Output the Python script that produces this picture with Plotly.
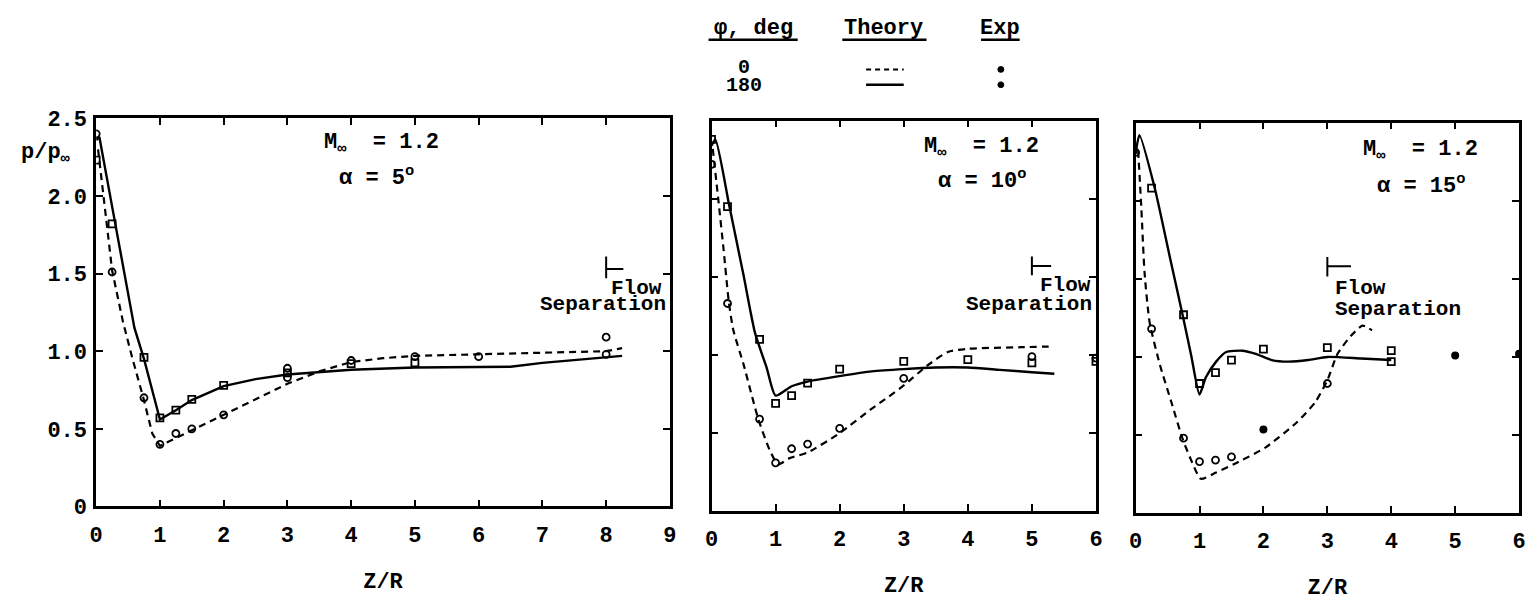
import plotly.graph_objects as go

W, H = 1534, 601
FONT = "Liberation Mono"
INK = "black"

# ---------------- data: M = 1.2, alpha = 5 deg ----------------
a5_theory0_x = [0.03, 0.25, 0.42, 0.57, 0.74, 0.88, 1.0, 1.25, 1.5, 2.0, 2.5, 3.0, 3.5, 4.0, 4.5, 5.0, 6.0, 7.0, 8.0, 8.25]
a5_theory0_y = [2.30, 1.52, 1.19, 0.95, 0.70, 0.47, 0.39, 0.44, 0.49, 0.59, 0.69, 0.79, 0.87, 0.93, 0.955, 0.97, 0.98, 0.99, 1.00, 1.02]
a5_theory180_x = [0.0, 0.05, 0.3, 0.6, 0.75, 1.0, 1.25, 1.5, 2.0, 2.5, 3.0, 3.5, 4.0, 5.0, 6.0, 6.5, 7.0, 8.0, 8.25]
a5_theory180_y = [2.36, 2.38, 1.82, 1.15, 0.95, 0.56, 0.62, 0.685, 0.775, 0.82, 0.85, 0.865, 0.88, 0.895, 0.90, 0.90, 0.925, 0.96, 0.97]
a5_exp0_x = [0.0, 0.25, 0.75, 1.0, 1.25, 1.5, 2.0, 3.0, 3.0, 4.0, 5.0, 6.0, 8.0, 8.0]
a5_exp0_y = [2.40, 1.51, 0.70, 0.40, 0.47, 0.50, 0.59, 0.89, 0.83, 0.94, 0.965, 0.965, 1.09, 0.98]
a5_exp180_x = [0.0, 0.25, 0.75, 1.0, 1.25, 1.5, 2.0, 3.0, 4.0, 5.0]
a5_exp180_y = [2.23, 1.82, 0.96, 0.57, 0.62, 0.69, 0.78, 0.86, 0.92, 0.925]

# ---------------- data: M = 1.2, alpha = 10 deg ----------------
a10_theory0_x = [0.02, 0.11, 0.19, 0.27, 0.34, 0.5, 0.73, 0.91, 1.04, 1.22, 1.5, 2.0, 2.48, 2.77, 3.0, 3.36, 3.69, 4.0, 4.83, 5.34]
a10_theory0_y = [2.32, 1.98, 1.67, 1.34, 1.16, 0.94, 0.59, 0.39, 0.30, 0.34, 0.376, 0.50, 0.65, 0.735, 0.805, 0.93, 1.02, 1.04, 1.05, 1.055]
a10_theory180_x = [0.0, 0.06, 0.28, 0.5, 0.68, 0.86, 1.0, 1.25, 1.5, 2.0, 2.5, 3.0, 3.5, 4.0, 4.5, 5.0, 5.35]
a10_theory180_y = [2.34, 2.38, 1.95, 1.51, 1.14, 0.92, 0.74, 0.80, 0.83, 0.865, 0.895, 0.91, 0.92, 0.92, 0.905, 0.89, 0.88]
a10_exp0_x = [0.0, 0.25, 0.75, 1.0, 1.25, 1.5, 2.0, 3.0, 5.0, 6.0]
a10_exp0_y = [2.22, 1.33, 0.59, 0.31, 0.40, 0.43, 0.53, 0.85, 0.99, 0.98]
a10_exp180_x = [0.0, 0.25, 0.75, 1.0, 1.25, 1.5, 2.0, 3.0, 4.0, 5.0, 6.0]
a10_exp180_y = [2.38, 1.95, 1.10, 0.69, 0.74, 0.82, 0.91, 0.96, 0.97, 0.95, 0.96]

# ---------------- data: M = 1.2, alpha = 15 deg ----------------
a15_theory0_x = [0.04, 0.09, 0.14, 0.22, 0.38, 0.56, 0.74, 0.89, 1.02, 1.26, 1.57, 2.03, 2.52, 2.81, 3.0, 3.16, 3.37, 3.55, 3.7]
a15_theory0_y = [2.32, 1.95, 1.54, 1.22, 0.95, 0.71, 0.47, 0.32, 0.22, 0.26, 0.32, 0.42, 0.58, 0.71, 0.85, 1.02, 1.135, 1.20, 1.17]
a15_theory180_x = [0.0, 0.06, 0.3, 0.53, 0.74, 0.87, 1.0, 1.1, 1.26, 1.41, 1.67, 1.88, 2.13, 2.39, 2.7, 3.0, 3.53, 4.0]
a15_theory180_y = [2.30, 2.42, 2.08, 1.65, 1.26, 1.01, 0.76, 0.87, 0.97, 1.03, 1.04, 1.02, 0.98, 0.97, 0.98, 1.00, 0.99, 0.98]
a15_exp0_x = [0.0, 0.25, 0.75, 1.0, 1.25, 1.5, 3.0]
a15_exp0_y = [2.31, 1.18, 0.48, 0.33, 0.34, 0.36, 0.83]
a15_exp180_x = [0.25, 0.75, 1.0, 1.25, 1.5, 2.0, 3.0, 4.0, 4.0]
a15_exp180_y = [2.08, 1.27, 0.83, 0.90, 0.98, 1.05, 1.06, 1.04, 0.97]
a15_expfill_x = [2.0, 5.0, 6.0]
a15_expfill_y = [0.535, 1.01, 1.02]

# flow-separation stations (Z/R) for each angle of attack
separation_x = [8.0, 5.0, 3.0]

x_tick_max = [9, 6, 6]
alpha_labels = ["5", "10", "15"]
y_ticks = [0, 0.5, 1.0, 1.5, 2.0, 2.5]
y_ticktext = ["0", "0.5", "1.0", "1.5", "2.0", "2.5"]

# ---------------- layout geometry (pixels) ----------------
panels = [
    dict(x0=90, x1=669, top=113, bottom=518),
    dict(x0=711, x1=1099, top=115.5, bottom=523),
    dict(x0=1139, x1=1526, top=117.5, bottom=525),
]


def px(v):
    return v / W


def py(v):
    return 1 - v / H


fig = go.Figure()

series = [
    (a5_theory0_x, a5_theory0_y, a5_theory180_x, a5_theory180_y,
     a5_exp0_x, a5_exp0_y, a5_exp180_x, a5_exp180_y, [], [], "linear"),
    (a10_theory0_x, a10_theory0_y, a10_theory180_x, a10_theory180_y,
     a10_exp0_x, a10_exp0_y, a10_exp180_x, a10_exp180_y, [], [], "spline"),
    (a15_theory0_x, a15_theory0_y, a15_theory180_x, a15_theory180_y,
     a15_exp0_x, a15_exp0_y, a15_exp180_x, a15_exp180_y,
     a15_expfill_x, a15_expfill_y, "spline"),
]

for i, (t0x, t0y, t1x, t1y, e0x, e0y, e1x, e1y, efx, efy, shape) in enumerate(series):
    xa = "x" if i == 0 else f"x{i + 1}"
    ya = "y" if i == 0 else f"y{i + 1}"
    fig.add_trace(go.Scatter(
        x=t0x, y=t0y, mode="lines", xaxis=xa, yaxis=ya,
        line=dict(color=INK, width=2.2, dash="7px,5px", shape=shape, smoothing=0.6),
        showlegend=False, hoverinfo="skip"))
    fig.add_trace(go.Scatter(
        x=t1x, y=t1y, mode="lines", xaxis=xa, yaxis=ya,
        line=dict(color=INK, width=2.4, shape=shape, smoothing=0.6),
        showlegend=False, hoverinfo="skip"))
    fig.add_trace(go.Scatter(
        x=e0x, y=e0y, mode="markers", xaxis=xa, yaxis=ya,
        marker=dict(symbol="circle-open", size=7, color=INK, line=dict(width=1.8, color=INK)),
        showlegend=False, hoverinfo="skip"))
    fig.add_trace(go.Scatter(
        x=e1x, y=e1y, mode="markers", xaxis=xa, yaxis=ya,
        marker=dict(symbol="square-open", size=7, color=INK, line=dict(width=1.8, color=INK)),
        showlegend=False, hoverinfo="skip"))
    if efx:
        fig.add_trace(go.Scatter(
            x=efx, y=efy, mode="markers", xaxis=xa, yaxis=ya,
            marker=dict(symbol="circle", size=8, color=INK),
            showlegend=False, hoverinfo="skip"))

axis_font = dict(family=FONT, size=22, color=INK, weight="bold")
layout = dict(
    width=W, height=H,
    margin=dict(l=0, r=0, t=0, b=0),
    paper_bgcolor="white", plot_bgcolor="white",
    font=dict(family=FONT, color=INK, size=22, weight="bold"),
    showlegend=False,
)

for i, p in enumerate(panels):
    sfx = "" if i == 0 else str(i + 1)
    layout["xaxis" + sfx] = dict(
        domain=[px(p["x0"]), px(p["x1"])],
        anchor="y" + sfx,
        range=[0, x_tick_max[i]],
        tickvals=list(range(x_tick_max[i] + 1)),
        ticks="inside", ticklen=7, tickwidth=2, tickcolor=INK,
        showline=True, linewidth=2.5, linecolor=INK, mirror="ticks",
        showgrid=False, zeroline=False,
        tickfont=axis_font, ticklabelstandoff=6,
        title=dict(text="Z/R", font=dict(family=FONT, size=22, color=INK, weight="bold"), standoff=25),
    )
    layout["yaxis" + sfx] = dict(
        domain=[py(p["bottom"]), py(p["top"])],
        anchor="x" + sfx,
        range=[0, 2.5],
        tickvals=y_ticks, ticktext=y_ticktext,
        ticks="inside", ticklen=7, tickwidth=2, tickcolor=INK,
        showline=True, linewidth=2.5, linecolor=INK, mirror="ticks",
        showgrid=False, zeroline=False,
        showticklabels=(i == 0), tickfont=axis_font, ticklabelstandoff=2,
    )

annotations = []
shapes = []


def text(x, y, s, size=22, xanchor="left", yanchor="middle"):
    annotations.append(dict(
        x=px(x), y=py(y), xref="paper", yref="paper", text=s, showarrow=False,
        xanchor=xanchor, yanchor=yanchor,
        font=dict(family=FONT, size=size, color=INK, weight="bold")))


# y-axis label
text(12, 150, "p/p<sub>∞</sub>")

# flight condition labels
cond_pos = [((318, 140), (333, 174)), ((923, 144), (938, 177)), ((1366, 147), (1381, 182))]
for (m_pos, a_pos), a_lab in zip(cond_pos, alpha_labels):
    text(m_pos[0], m_pos[1], "M<sub>∞</sub>  = 1.2")
    text(a_pos[0], a_pos[1], f"α = {a_lab}<sup>o</sup>")

# flow separation markers and labels
sep_geom = [
    dict(y0=1.47, y1=1.61, yh=1.53, dx=0.27),
    dict(y0=1.51, y1=1.63, yh=1.57, dx=0.30),
    dict(y0=1.515, y1=1.64, yh=1.58, dx=0.37),
]
sep_text = [((608, 291), (667, 307)), ((1040, 287), (1097, 307)), ((1338, 291), (1338, 313))]
for i, (g, sx) in enumerate(zip(sep_geom, separation_x)):
    sfx = "" if i == 0 else str(i + 1)
    shapes.append(dict(type="line", xref="x" + sfx, yref="y" + sfx,
                       x0=sx, x1=sx, y0=g["y0"], y1=g["y1"], line=dict(color=INK, width=2)))
    shapes.append(dict(type="line", xref="x" + sfx, yref="y" + sfx,
                       x0=sx, x1=sx + g["dx"], y0=g["yh"], y1=g["yh"], line=dict(color=INK, width=2)))
    (fx, fy), (sx2, sy2) = sep_text[i]
    text(fx, fy, "Flow", size=21)
    if i == 2:
        text(sx2, sy2, "Separation", size=21)
    else:
        text(sx2, sy2, "Separation", size=21, xanchor="right")

# key: phi, theory line style, experimental symbol
text(753, 19, "φ, deg", xanchor="center")
text(885, 19, "Theory", xanchor="center")
text(1002, 19, "Exp", xanchor="center")
for a, b in [(708, 798), (843, 928), (983, 1022)]:
    shapes.append(dict(type="line", xref="paper", yref="paper",
                       x0=px(a), x1=px(b), y0=py(31), y1=py(31), line=dict(color=INK, width=2.5)))
text(744, 60, "0", size=20, xanchor="center")
text(744, 79, "180", size=20, xanchor="center")
shapes.append(dict(type="line", xref="paper", yref="paper", x0=px(867), x1=px(905),
                   y0=py(62), y1=py(62), line=dict(color=INK, width=2, dash="5px,4px")))
shapes.append(dict(type="line", xref="paper", yref="paper", x0=px(867), x1=px(905),
                   y0=py(78), y1=py(78), line=dict(color=INK, width=2.5)))
for yy in (62, 78):
    shapes.append(dict(type="circle", xref="paper", yref="paper",
                       x0=px(1000), x1=px(1006), y0=py(yy + 3), y1=py(yy - 3),
                       fillcolor=INK, line=dict(color=INK, width=1)))

layout["annotations"] = annotations
layout["shapes"] = shapes
fig.update_layout(**layout)

fig.write_html("out.html")
